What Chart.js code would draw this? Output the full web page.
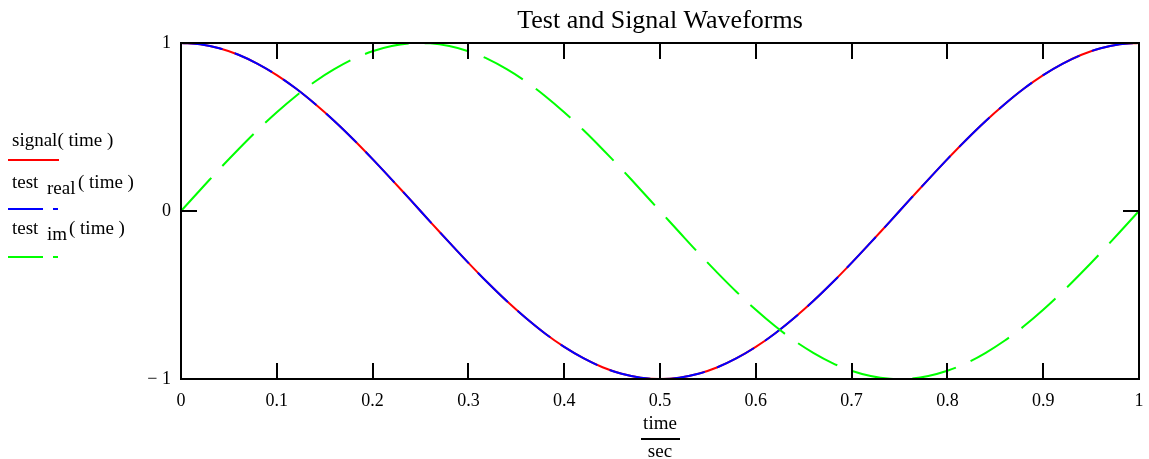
<!DOCTYPE html>
<html>
<head>
<meta charset="utf-8">
<script src="https://cdn.jsdelivr.net/npm/chart.js@4/dist/chart.umd.min.js"></script>
<style>
  html, body { margin: 0; padding: 0; background: #fff; }
  #wrap { position: relative; width: 1149px; height: 459px; }
</style>
</head>
<body>
<div id="wrap"><canvas id="c" width="1149" height="459"></canvas></div>
<script>
// Sample times (sec)
const timeValues = [
  0.00, 0.02, 0.04, 0.06, 0.08, 0.10, 0.12, 0.14, 0.16, 0.18,
  0.20, 0.22, 0.24, 0.26, 0.28, 0.30, 0.32, 0.34, 0.36, 0.38,
  0.40, 0.42, 0.44, 0.46, 0.48, 0.50, 0.52, 0.54, 0.56, 0.58,
  0.60, 0.62, 0.64, 0.66, 0.68, 0.70, 0.72, 0.74, 0.76, 0.78,
  0.80, 0.82, 0.84, 0.86, 0.88, 0.90, 0.92, 0.94, 0.96, 0.98, 1.00
];

// signal(time)
const signalValues = [
  1.000, 0.992, 0.969, 0.930, 0.876, 0.809, 0.729, 0.637, 0.536, 0.426,
  0.309, 0.187, 0.063, -0.063, -0.187, -0.309, -0.426, -0.536, -0.637, -0.729,
  -0.809, -0.876, -0.930, -0.969, -0.992, -1.000, -0.992, -0.969, -0.930, -0.876,
  -0.809, -0.729, -0.637, -0.536, -0.426, -0.309, -0.187, -0.063, 0.063, 0.187,
  0.309, 0.426, 0.536, 0.637, 0.729, 0.809, 0.876, 0.930, 0.969, 0.992, 1.000
];

// test_real(time)
const testRealValues = [
  1.000, 0.992, 0.969, 0.930, 0.876, 0.809, 0.729, 0.637, 0.536, 0.426,
  0.309, 0.187, 0.063, -0.063, -0.187, -0.309, -0.426, -0.536, -0.637, -0.729,
  -0.809, -0.876, -0.930, -0.969, -0.992, -1.000, -0.992, -0.969, -0.930, -0.876,
  -0.809, -0.729, -0.637, -0.536, -0.426, -0.309, -0.187, -0.063, 0.063, 0.187,
  0.309, 0.426, 0.536, 0.637, 0.729, 0.809, 0.876, 0.930, 0.969, 0.992, 1.000
];

// test_im(time)
const testImValues = [
  0.000, 0.125, 0.249, 0.368, 0.482, 0.588, 0.685, 0.771, 0.844, 0.905,
  0.951, 0.982, 0.998, 0.998, 0.982, 0.951, 0.905, 0.844, 0.771, 0.685,
  0.588, 0.482, 0.368, 0.249, 0.125, 0.000, -0.125, -0.249, -0.368, -0.482,
  -0.588, -0.685, -0.771, -0.844, -0.905, -0.951, -0.982, -0.998, -0.998, -0.982,
  -0.951, -0.905, -0.844, -0.771, -0.685, -0.588, -0.482, -0.368, -0.249, -0.125, 0.000
];

const xTickValues = [0, 0.1, 0.2, 0.3, 0.4, 0.5, 0.6, 0.7, 0.8, 0.9, 1];
const xTickLabels = ['0', '0.1', '0.2', '0.3', '0.4', '0.5', '0.6', '0.7', '0.8', '0.9', '1'];
const yTickValues = [-1, 0, 1];
const yTickLabels = ['\u2212 1', '0', '1'];

const chartTitle = 'Test and Signal Waveforms';
const SERIF = '"Liberation Serif", "Times New Roman", serif';

const pts = (ys) => timeValues.map((t, i) => ({ x: t, y: ys[i] }));

// Frame, inward ticks, title, axis caption and the legend block on the left
const decorations = {
  id: 'decorations',
  afterDatasetsDraw(chart) {
    const { ctx, chartArea: a, scales: { x, y } } = chart;
    ctx.save();
    ctx.strokeStyle = '#000';
    ctx.lineWidth = 2;
    ctx.setLineDash([]);
    ctx.strokeRect(a.left, a.top, a.right - a.left, a.bottom - a.top);

    const tl = 16;
    ctx.beginPath();
    xTickValues.forEach(v => {
      const px = Math.round(x.getPixelForValue(v));
      if (v === 0 || v === 1) return;
      ctx.moveTo(px, a.bottom); ctx.lineTo(px, a.bottom - tl);
      ctx.moveTo(px, a.top); ctx.lineTo(px, a.top + tl);
    });
    const y0 = Math.round(y.getPixelForValue(0));
    ctx.moveTo(a.left, y0); ctx.lineTo(a.left + tl, y0);
    ctx.moveTo(a.right, y0); ctx.lineTo(a.right - tl, y0);
    ctx.stroke();

    ctx.fillStyle = '#000';
    ctx.textAlign = 'center';
    ctx.textBaseline = 'middle';
    ctx.font = '26px ' + SERIF;
    ctx.fillText(chartTitle, (a.left + a.right) / 2, 21);

    // axis caption: time / sec
    const cx = (a.left + a.right) / 2;
    ctx.font = '19px ' + SERIF;
    ctx.fillText('time', cx, 424);
    ctx.fillText('sec', cx, 452);
    ctx.lineWidth = 2;
    ctx.beginPath();
    ctx.moveTo(cx - 19, 439); ctx.lineTo(cx + 20, 439);
    ctx.stroke();

    // legend
    ctx.textAlign = 'left';
    ctx.textBaseline = 'alphabetic';
    ctx.font = '19px ' + SERIF;
    ctx.fillText('signal( time )', 12, 146);
    ctx.fillText('test', 12, 188);
    ctx.fillText('real', 47, 194);
    ctx.fillText('( time )', 78, 188);
    ctx.fillText('test', 12, 234);
    ctx.fillText('im', 47, 240);
    ctx.fillText('( time )', 69, 234);

    ctx.lineWidth = 2;
    ctx.strokeStyle = '#ff0000';
    ctx.beginPath(); ctx.moveTo(8, 160); ctx.lineTo(59, 160); ctx.stroke();
    ctx.strokeStyle = '#0000ff';
    ctx.beginPath(); ctx.moveTo(8, 209); ctx.lineTo(43, 209);
    ctx.moveTo(53, 209); ctx.lineTo(58, 209); ctx.stroke();
    ctx.strokeStyle = '#00ff00';
    ctx.beginPath(); ctx.moveTo(8, 257); ctx.lineTo(43, 257);
    ctx.moveTo(53, 257); ctx.lineTo(58, 257); ctx.stroke();
    ctx.restore();
  }
};

new Chart(document.getElementById('c'), {
  type: 'line',
  data: {
    datasets: [
      { label: 'signal(time)', data: pts(signalValues), borderColor: '#ff0000', borderWidth: 2, pointRadius: 0, tension: 0.35, fill: false, order: 2 },
      { label: 'test real(time)', data: pts(testRealValues), borderColor: '#0000ff', borderWidth: 2, borderDash: [42, 13], pointRadius: 0, tension: 0.35, fill: false, order: 1 },
      { label: 'test im(time)', data: pts(testImValues), borderColor: '#00ff00', borderWidth: 2, borderDash: [45, 16], pointRadius: 0, tension: 0.35, fill: false, order: 0 }
    ]
  },
  options: {
    responsive: false,
    animation: false,
    devicePixelRatio: 1,
    layout: { padding: { left: 0, top: 43, right: 10, bottom: 0 } },
    plugins: { legend: { display: false }, title: { display: false }, tooltip: { enabled: false } },
    scales: {
      x: {
        type: 'linear', min: 0, max: 1,
        afterFit: s => { s.height = 80; s.paddingLeft = 0; s.paddingRight = 0; },
        afterBuildTicks: s => { s.ticks = xTickValues.map(v => ({ value: v })); },
        grid: { display: false, drawTicks: false },
        border: { display: false },
        ticks: {
          padding: 11, color: '#000', maxRotation: 0, autoSkip: false,
          font: { family: SERIF, size: 18 },
          callback: (v) => { const i = xTickValues.indexOf(v); return i >= 0 ? xTickLabels[i] : ''; }
        }
      },
      y: {
        type: 'linear', min: -1, max: 1,
        afterFit: s => { s.width = 181; s.paddingTop = 0; s.paddingBottom = 0; },
        afterBuildTicks: s => { s.ticks = yTickValues.map(v => ({ value: v })); },
        grid: { display: false, drawTicks: false },
        border: { display: false },
        ticks: {
          padding: 10, color: '#000', autoSkip: false,
          font: { family: SERIF, size: 18 },
          callback: (v) => { const i = yTickValues.indexOf(v); return i >= 0 ? yTickLabels[i] : ''; }
        }
      }
    }
  },
  plugins: [decorations]
});
</script>
</body>
</html>
